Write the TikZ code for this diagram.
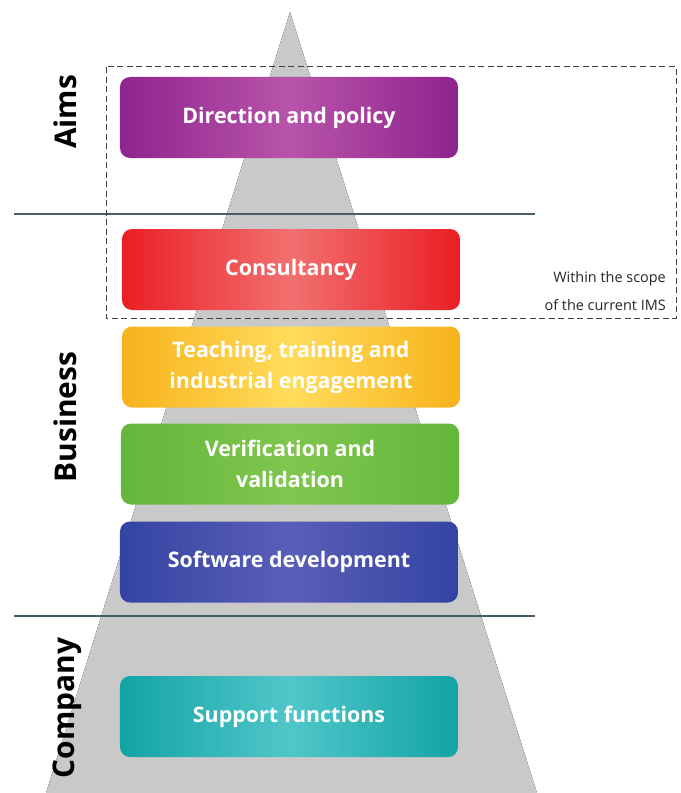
\documentclass[tikz,border=0pt]{standalone}
\usepackage{fontspec}
\setmainfont{Open Sans}
\definecolor{plum}{RGB}{142, 36, 142}
\definecolor{plumlight}{RGB}{184, 84, 170}
\definecolor{scarlet}{RGB}{234, 30, 36}
\definecolor{scarletlight}{RGB}{242, 112, 112}
\definecolor{amber}{RGB}{248, 178, 28}
\definecolor{amberlight}{RGB}{255, 220, 92}
\definecolor{leaf}{RGB}{100, 182, 58}
\definecolor{leaflight}{RGB}{128, 198, 78}
\definecolor{indigo}{RGB}{52, 68, 162}
\definecolor{indigolight}{RGB}{90, 94, 184}
\definecolor{lagoon}{RGB}{18, 164, 164}
\definecolor{lagoonlight}{RGB}{80, 198, 202}
\definecolor{slate}{RGB}{70, 92, 104}

\tikzset{
  tier/.style={rounded corners=10bp, minimum width=338bp, minimum height=81bp,
               inner sep=0pt, align=center, text=white,
               font=\bfseries\fontsize{21.5}{31}\selectfont},
  side/.style={rotate=90, inner sep=0pt, text=black,
               font=\bfseries\fontsize{30}{32}\selectfont},
}

\begin{document}
\begin{tikzpicture}[x=1bp, y=-1bp]
  \useasboundingbox (0,0) rectangle (681,793);
  \fill[left color=black!21, middle color=black!9, right color=black!21]
       (290,12) -- (537,793) -- (46,793) -- cycle;
  \draw[slate, line width=1.3bp] (14,214) -- (535,214);
  \draw[slate, line width=1.3bp] (14,616) -- (535,616);
  \draw[black!75, line width=1bp, dash pattern=on 6bp off 3.5bp] (106,67) rectangle (676,318);

  \node[tier, left color=plum,    right color=plum,    middle color=plumlight]    (policy)   at (289,117.5) {Direction and policy};
  \node[tier, left color=scarlet, right color=scarlet, middle color=scarletlight] (consult)  at (291,269.5) {Consultancy};
  \node[tier, left color=amber,   right color=amber,   middle color=amberlight]   (teaching) at (291,367)   {Teaching, training and\\industrial engagement};
  \node[tier, left color=leaf,    right color=leaf,    middle color=leaflight]    (vandv)    at (290,464)   {Verification and\\validation};
  \node[tier, left color=indigo,  right color=indigo,  middle color=indigolight]  (software) at (289,562)   {Software development};
  \node[tier, left color=lagoon,  right color=lagoon,  middle color=lagoonlight]  (support)  at (289,716.5) {Support functions};

  \node[anchor=east, align=right, inner sep=0pt, text=black!85,
        font=\fontsize{14.5}{28}\selectfont] (scope) at (666,291) {Within the scope\\of the current IMS};

  \node[side] (aims)     at (65,112) {Aims};
  \node[side] (business) at (65,417) {Business};
  \node[side] (company)  at (67,708) {Company};
\end{tikzpicture}
\end{document}
